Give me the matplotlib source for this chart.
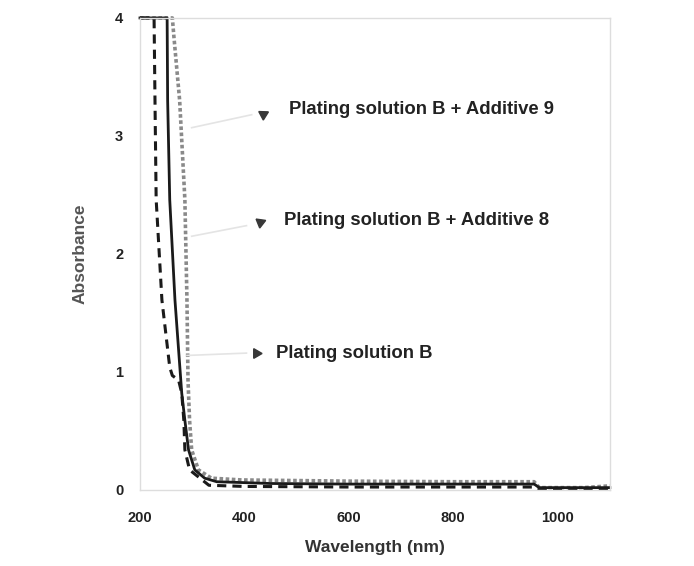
import numpy as np
import matplotlib.pyplot as plt

plt.rcParams['font.family'] = ['Liberation Sans', 'DejaVu Sans']

# %%
# Data (wavelength in nm, absorbance)
wl_B = [200, 227, 229, 231, 242, 257, 262, 274, 280, 284, 286, 295, 315, 332, 400, 600, 800, 955, 965, 1100]
abs_B = [4.0, 4.0, 3.2, 2.46, 1.61, 1.04, 0.97, 0.93, 0.82, 0.59, 0.34, 0.17, 0.10, 0.04, 0.03, 0.025, 0.025, 0.025, 0.01, 0.01]

wl_B8 = [200, 252, 253, 257, 267, 280, 286, 293, 305, 324, 347, 450, 600, 800, 955, 965, 1100]
abs_B8 = [4.0, 4.0, 3.3, 2.46, 1.61, 0.82, 0.59, 0.34, 0.17, 0.10, 0.07, 0.055, 0.05, 0.05, 0.05, 0.02, 0.02]

wl_B9 = [200, 262, 265, 276, 286, 290, 292, 295, 299, 312, 337, 395, 600, 800, 955, 965, 1050, 1100]
abs_B9 = [4.0, 4.0, 3.84, 3.3, 2.46, 1.61, 0.93, 0.59, 0.34, 0.17, 0.10, 0.085, 0.075, 0.07, 0.07, 0.02, 0.02, 0.035]

labels = ['Plating solution B + Additive 9',
          'Plating solution B + Additive 8',
          'Plating solution B']

xticks = [200, 400, 600, 800, 1000]
yticks = [0, 1, 2, 3, 4]

# %%
fig = plt.figure(figsize=(6.94, 5.66), dpi=100)
ax = fig.add_axes([0.2017, 0.1343, 0.677, 0.834])

ax.plot(wl_B9, abs_B9, color='#8a8a8a', lw=2.6, ls=(0, (1, 0.7)), clip_on=False)
ax.plot(wl_B8, abs_B8, color='#1a1a1a', lw=2.0, ls='-', clip_on=False)
ax.plot(wl_B, abs_B, color='#1a1a1a', lw=2.2, ls=(0, (3, 2)), clip_on=False)

ax.set_xlim(200, 1100)
ax.set_ylim(0, 4)
ax.set_xticks(xticks)
ax.set_yticks(yticks)
ax.tick_params(length=0, labelsize=10.5, colors='#222222')
ax.tick_params(axis='x', pad=15)
ax.tick_params(axis='y', pad=12)
for t in ax.get_xticklabels() + ax.get_yticklabels():
    t.set_fontweight('bold')

for s in ax.spines.values():
    s.set_color('#dddddd')
    s.set_linewidth(1.0)

ax.set_xlabel('Wavelength (nm)', fontsize=12.5, fontweight='bold', color='#333333', labelpad=11)
ax.set_ylabel('Absorbance', fontsize=12.5, fontweight='bold', color='#555555', labelpad=20)

# annotations: faint leader, small triangle, label
lead_from = [(299, 3.07), (299, 2.15), (290, 1.14)]
lead_to = [(414, 3.18), (404, 2.24), (404, 1.16)]
tri_pos = [(436, 3.19), (429, 2.27), (423, 1.16)]
tri_ang = [-62, -68, -90]
text_pos = [(486, 3.22), (476, 2.28), (461, 1.16)]

for i in range(3):
    ax.plot([lead_from[i][0], lead_to[i][0]], [lead_from[i][1], lead_to[i][1]],
            color='#e4e4e4', lw=1.2)
    ax.plot(tri_pos[i][0], tri_pos[i][1], marker=(3, 0, tri_ang[i]),
            color='#383838', ms=8, ls='none')
    ax.text(text_pos[i][0], text_pos[i][1], labels[i], fontsize=13.3,
            fontweight='bold', color='#222222', va='center', ha='left')

fig.savefig('out.png', dpi=100)
